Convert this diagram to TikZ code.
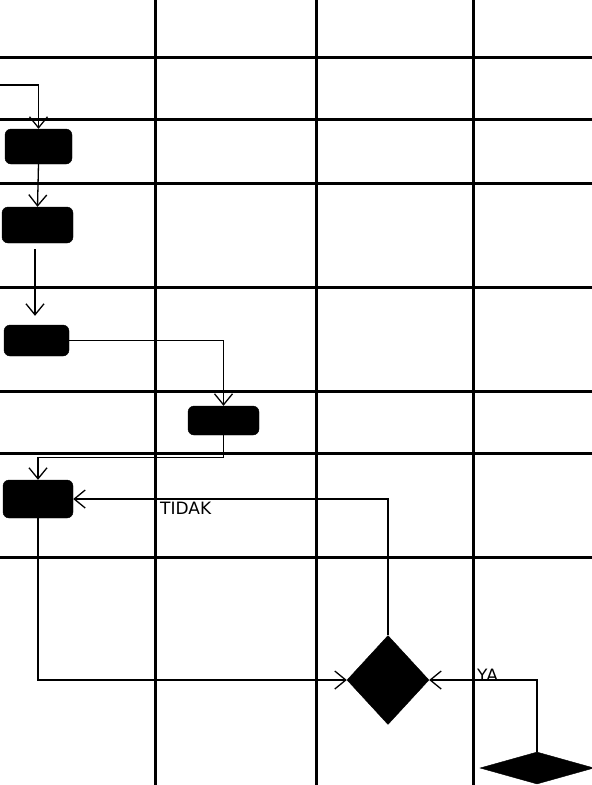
\documentclass[tikz,border=0pt]{standalone}
\usepackage{fontspec}
\setsansfont{DejaVu Sans}
\usetikzlibrary{shapes.geometric, arrows.meta, positioning}

\begin{document}
\begin{tikzpicture}[
    x=1pt, y=-1pt,
    every node/.style={font=\sffamily\fontsize{17}{20}\selectfont},
    act/.style={draw, fill=black, rounded corners=6pt, inner sep=0pt},
    dec/.style={draw, fill=black, diamond, inner sep=0pt},
    lane/.style={line width=3pt},
    arr/.style={-{Straight Barb[length=11pt, width=18pt]}, line width=1.3pt},
    lbl/.style={anchor=base west, inner sep=0pt}
]
    \useasboundingbox (0,0) rectangle (592,785);
    % swimlane grid
    \foreach \gx in {155,316,473}
        \draw[lane] (\gx,0) -- (\gx,785);
    \foreach \gy in {57,119,183,287,391,453,557}
        \draw[lane] (0,\gy) -- (592,\gy);

    % activities
    \node[act, minimum width=67pt, minimum height=35pt] (act1) at (38.5,146.5) {};
    \node[act, minimum width=71pt, minimum height=36pt] (act2) at (37.5,225) {};
    \node[act, minimum width=65pt, minimum height=31pt] (act3) at (36.5,340.5) {};
    \node[act, minimum width=71pt, minimum height=29pt] (act4) at (223.5,420.5) {};
    \node[act, minimum width=70pt, minimum height=38pt] (act5) at (38,499) {};
    % decisions
    \node[dec, minimum width=82pt, minimum height=89pt] (dec1) at (388,680) {};
    \node[dec, minimum width=114pt, minimum height=32pt] (dec2) at (537,768) {};
    \coordinate (start) at (0,85);

    % flows
    \draw[arr] (start) -| (act1.north);
    \draw[arr] (act1.south) -- (act2.north);
    \draw[arr, shorten <=6pt, shorten >=9pt] ([xshift=-2.5pt]act2.south) -- ([xshift=-1.5pt]act3.north);
    \draw[arr] (act3.east) -| (act4.north);
    \draw[arr] (act4.south) -- ++(0,22) -| (act5.north);
    \draw[arr] (act5.south) |- (dec1.west);
    \draw[arr] (dec1.north) |- (act5.east);
    \draw[arr] (dec2.north) |- (dec1.east);

    % guards
    \node[lbl] (tidak) at (160,514) {TIDAK};
    \node[lbl] (ya) at (477,681) {YA};
\end{tikzpicture}
\end{document}
